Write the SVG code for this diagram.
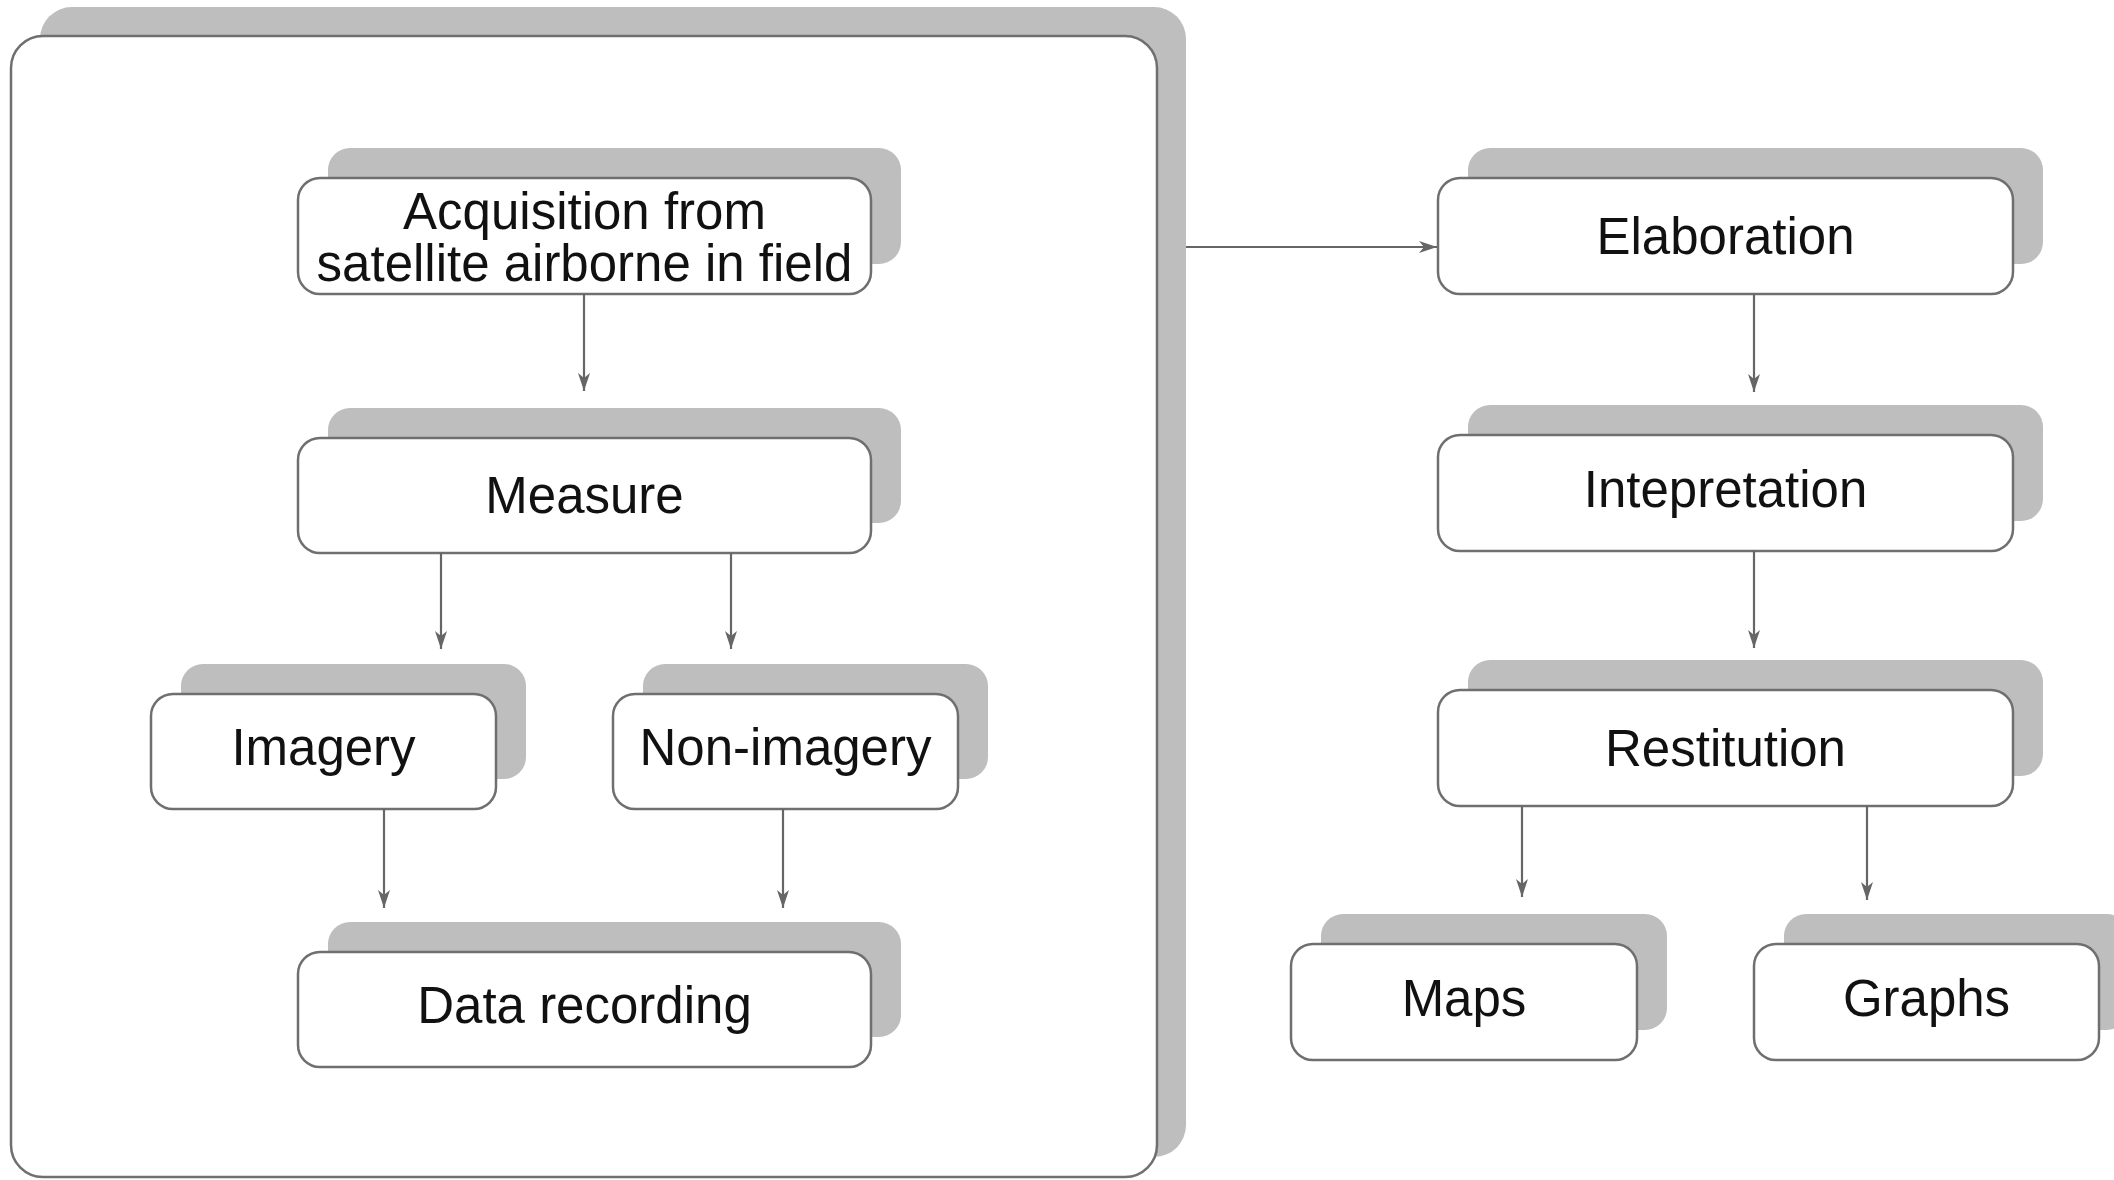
<svg xmlns="http://www.w3.org/2000/svg" width="2114" height="1180" viewBox="0 0 2114 1180">
<style>
.sh{fill:#bdbebd;stroke:none}
.box{fill:#ffffff;stroke:#6f6f6f;stroke-width:2.5}
.lbl{font-family:"Liberation Sans",Arial,sans-serif;font-size:51px;fill:#111111;text-anchor:middle}
.con{stroke:#666666;stroke-width:2.2;fill:none;marker-end:url(#arr)}
</style>
<defs>
<marker id="arr" viewBox="0 0 18 12" refX="18" refY="6" markerWidth="18" markerHeight="12" markerUnits="userSpaceOnUse" orient="auto">
<path d="M0,0 L18,6 L0,12 L5,6 z" fill="#666666"/>
</marker>
</defs>
<rect width="2114" height="1180" fill="#ffffff"/>
<g id="container">
<rect class="sh" x="40" y="7" width="1146" height="1150" rx="32"/>
<rect class="box" x="11" y="36" width="1146" height="1141" rx="32"/>
</g>
<g id="n-acquisition">
<rect class="sh" x="328" y="148" width="573" height="116" rx="22"/>
<rect class="box" x="298" y="178" width="573" height="116" rx="22"/>
<text class="lbl" x="584.5" y="229">Acquisition from</text>
<text class="lbl" x="584.5" y="281">satellite airborne in field</text>
</g>
<g id="n-measure">
<rect class="sh" x="328" y="408" width="573" height="115" rx="22"/>
<rect class="box" x="298" y="438" width="573" height="115" rx="22"/>
<text class="lbl" x="584.5" y="513">Measure</text>
</g>
<g id="n-imagery">
<rect class="sh" x="181" y="664" width="345" height="115" rx="22"/>
<rect class="box" x="151" y="694" width="345" height="115" rx="22"/>
<text class="lbl" x="323.5" y="765">Imagery</text>
</g>
<g id="n-nonimagery">
<rect class="sh" x="643" y="664" width="345" height="115" rx="22"/>
<rect class="box" x="613" y="694" width="345" height="115" rx="22"/>
<text class="lbl" x="785.5" y="765">Non-imagery</text>
</g>
<g id="n-datarecording">
<rect class="sh" x="328" y="922" width="573" height="115" rx="22"/>
<rect class="box" x="298" y="952" width="573" height="115" rx="22"/>
<text class="lbl" x="584.5" y="1023">Data recording</text>
</g>
<g id="n-elaboration">
<rect class="sh" x="1468" y="148" width="575" height="116" rx="22"/>
<rect class="box" x="1438" y="178" width="575" height="116" rx="22"/>
<text class="lbl" x="1725.5" y="254">Elaboration</text>
</g>
<g id="n-intepretation">
<rect class="sh" x="1468" y="405" width="575" height="116" rx="22"/>
<rect class="box" x="1438" y="435" width="575" height="116" rx="22"/>
<text class="lbl" x="1725.5" y="507">Intepretation</text>
</g>
<g id="n-restitution">
<rect class="sh" x="1468" y="660" width="575" height="116" rx="22"/>
<rect class="box" x="1438" y="690" width="575" height="116" rx="22"/>
<text class="lbl" x="1725.5" y="766">Restitution</text>
</g>
<g id="n-maps">
<rect class="sh" x="1321" y="914" width="346" height="116" rx="22"/>
<rect class="box" x="1291" y="944" width="346" height="116" rx="22"/>
<text class="lbl" x="1464" y="1016">Maps</text>
</g>
<g id="n-graphs">
<rect class="sh" x="1784" y="914" width="345" height="116" rx="22"/>
<rect class="box" x="1754" y="944" width="345" height="116" rx="22"/>
<text class="lbl" x="1926.5" y="1016">Graphs</text>
</g>
<g id="connectors">
<line class="con" x1="584" y1="294" x2="584" y2="391"/>
<line class="con" x1="441" y1="553" x2="441" y2="649"/>
<line class="con" x1="731" y1="553" x2="731" y2="649"/>
<line class="con" x1="384" y1="809" x2="384" y2="908"/>
<line class="con" x1="783" y1="809" x2="783" y2="908"/>
<line class="con" x1="1186" y1="247" x2="1437" y2="247"/>
<line class="con" x1="1754" y1="294" x2="1754" y2="392"/>
<line class="con" x1="1754" y1="551" x2="1754" y2="648"/>
<line class="con" x1="1522" y1="806" x2="1522" y2="897"/>
<line class="con" x1="1867" y1="806" x2="1867" y2="900"/>
</g>
</svg>
